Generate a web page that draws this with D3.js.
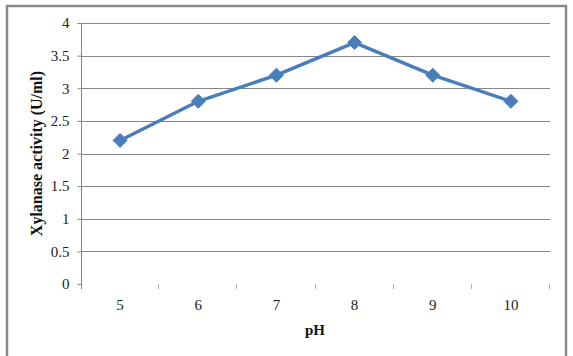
<!DOCTYPE html>
<html>
<head>
<meta charset="utf-8">
<script src="https://cdn.jsdelivr.net/npm/d3@7"></script>
<style>
  body { margin: 0; background: #fff; }
  svg text { font-family: "Liberation Serif", "Times New Roman", serif; }
</style>
</head>
<body>
<div id="vis"></div>
<script>
var phLevels = ["5", "6", "7", "8", "9", "10"];
var activity = [2.2, 2.8, 3.2, 3.7, 3.2, 2.8];
var yTicks = [0, 0.5, 1, 1.5, 2, 2.5, 3, 3.5, 4];

var W = 573, H = 356;
var plotL = 81, plotR = 550, plotT = 23, plotB = 284;

var svg = d3.select("#vis").append("svg")
    .attr("width", W)
    .attr("height", H);

// outer frame of the chart
svg.append("rect")
    .attr("x", 7).attr("y", 6)
    .attr("width", 559).attr("height", 356)
    .attr("fill", "#fff")
    .attr("stroke", "#8a8a8a")
    .attr("stroke-width", 2.5);

var x = d3.scaleBand().domain(phLevels).range([plotL, plotR]).padding(0);
var y = d3.scaleLinear().domain([0, 4]).range([plotB, plotT]);

// gridlines
svg.append("g")
  .selectAll("line")
  .data(yTicks.filter(function(d) { return d > 0; }))
  .enter().append("line")
    .attr("x1", plotL).attr("x2", plotR)
    .attr("y1", function(d) { return Math.round(y(d)) + 0.5; })
    .attr("y2", function(d) { return Math.round(y(d)) + 0.5; })
    .attr("stroke", "#868686")
    .attr("stroke-width", 1);

// y axis
var yAxis = d3.axisLeft(y).tickValues(yTicks).tickSize(4).tickFormat(function(d) { return d; });
var gy = svg.append("g")
    .attr("transform", "translate(" + (plotL + 0.5) + ",0)")
    .call(yAxis)
    .attr("font-family", "Liberation Serif");
gy.select(".domain").attr("stroke", "#868686").attr("d", "M-4," + (plotT + 0.5) + "H0V" + (plotB + 5));
gy.selectAll(".tick line").attr("stroke", "#868686");
gy.selectAll(".tick text")
    .attr("x", -12)
    .attr("font-size", 15)
    .attr("fill", "#222");

// x tick marks between categories (no visible base line)
var bounds = phLevels.map(function(d) { return x(d); }).concat([plotR]);
svg.append("g")
  .selectAll("line")
  .data(bounds.slice(1))
  .enter().append("line")
    .attr("x1", function(d) { return Math.round(d) - 0.5; })
    .attr("x2", function(d) { return Math.round(d) - 0.5; })
    .attr("y1", plotB)
    .attr("y2", plotB + 5)
    .attr("stroke", "#b0b0b0");

// x labels
svg.append("g")
  .selectAll("text")
  .data(phLevels)
  .enter().append("text")
    .attr("x", function(d) { return x(d) + x.bandwidth() / 2; })
    .attr("y", 310)
    .attr("text-anchor", "middle")
    .attr("font-size", 15)
    .attr("fill", "#222")
    .text(function(d) { return d; });

// axis titles
svg.append("text")
    .attr("x", (plotL + plotR) / 2 - 0.5)
    .attr("y", 335)
    .attr("text-anchor", "middle")
    .attr("font-size", 15)
    .attr("font-weight", "bold")
    .attr("fill", "#111")
    .text("pH");

svg.append("text")
    .attr("transform", "translate(42," + ((plotT + plotB) / 2) + ") rotate(-90)")
    .attr("text-anchor", "middle")
    .attr("font-size", 16)
    .attr("font-weight", "bold")
    .attr("fill", "#111")
    .text("Xylanase activity (U/ml)");

// series
var pts = phLevels.map(function(d, i) { return [x(d) + x.bandwidth() / 2, y(activity[i])]; });

svg.append("path")
    .datum(pts)
    .attr("d", d3.line())
    .attr("fill", "none")
    .attr("stroke", "#4a7ebb")
    .attr("stroke-width", 3.5)
    .attr("stroke-linejoin", "round");

svg.append("g")
  .selectAll("path")
  .data(pts)
  .enter().append("path")
    .attr("transform", function(d) { return "translate(" + d[0] + "," + d[1] + ")"; })
    .attr("d", "M0,-7L7,0L0,7L-7,0Z")
    .attr("fill", "#4a7ebb")
    .attr("stroke", "#4a7ebb")
    .attr("stroke-width", 1);
</script>
</body>
</html>
